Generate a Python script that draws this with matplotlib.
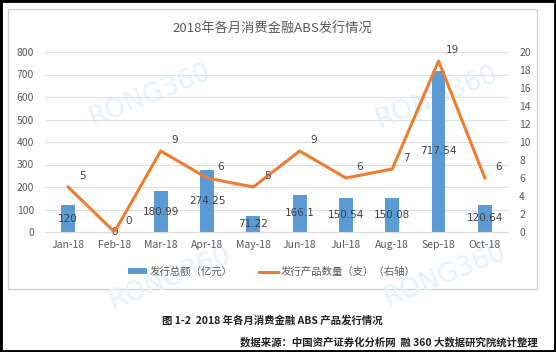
import matplotlib
matplotlib.use("Agg")
import matplotlib.pyplot as plt
from matplotlib.patches import Rectangle
from matplotlib.lines import Line2D
from matplotlib.patches import Patch

plt.rcParams['font.family'] = ['Noto Sans CJK SC', 'DejaVu Sans']

months = ["Jan-18", "Feb-18", "Mar-18", "Apr-18", "May-18", "Jun-18",
          "Jul-18", "Aug-18", "Sep-18", "Oct-18"]
amount = [120, 0, 180.99, 274.25, 71.22, 166.1, 150.54, 150.08, 717.54, 120.64]
amount_labels = ["120", "0", "180.99", "274.25", "71.22", "166.1", "150.54",
                 "150.08", "717.54", "120.64"]
count = [5, 0, 9, 6, 5, 9, 6, 7, 19, 6]
left_ticks = [0, 100, 200, 300, 400, 500, 600, 700, 800]
right_ticks = [0, 2, 4, 6, 8, 10, 12, 14, 16, 18, 20]

title = "2018年各月消费金融ABS发行情况"
legend_bar = "发行总额（亿元）"
legend_line = "发行产品数量（支）（右轴）"
caption = "图 1-2  2018 年各月消费金融 ABS 产品发行情况"
source = "数据来源：中国资产证券化分析网  融 360 大数据研究院统计整理"

W, H = 556, 352
fig = plt.figure(figsize=(W / 100, H / 100), dpi=100)
fig.patch.set_facecolor("white")

def fx(x):
    return x / W

def fy(y):
    return 1 - y / H

# outer black frame
fig.patches.append(Rectangle((0, 0), 1, 1, transform=fig.transFigure,
                             fill=False, edgecolor="black", linewidth=3.5, zorder=-2))
# chart panel border
fig.patches.append(Rectangle((fx(8), fy(289)), fx(537) - fx(8), fy(9) - fy(289),
                             transform=fig.transFigure, fill=False,
                             edgecolor="#d0d0d0", linewidth=0.9, zorder=-2))

# watermarks
wm_color = "#e4f2fb"
for (x, y) in [(150, 95), (437, 97), (445, 275), (170, 278)]:
    fig.text(fx(x), fy(y), "RONG360", rotation=22, fontsize=19, color=wm_color,
             ha="center", va="center", family="DejaVu Sans", zorder=-1)

ax = fig.add_axes([fx(45), fy(232), fx(508) - fx(45), fy(52) - fy(232)])
ax.patch.set_alpha(0)
ax2 = ax.twinx()

x = list(range(len(months)))
bar_color = "#5b9bd5"
line_color = "#ed7d31"
txt_color = "#595959"

bars = ax.bar(x, amount, width=0.3, color=bar_color, zorder=2)
ax.set_ylim(0, 800)
ax.set_yticks(left_ticks)
ax.set_xlim(-0.5, len(months) - 0.5)
ax.set_xticks(x)
ax.set_xticklabels(months)
ax.grid(axis="y", color="#e0e0e0", linewidth=0.8, zorder=0)
ax.set_axisbelow(True)
for s in ["top", "right", "left"]:
    ax.spines[s].set_visible(False)
ax.spines["bottom"].set_color("#d9d9d9")
ax.tick_params(axis="both", length=0, labelsize=7.5, colors=txt_color, pad=6)
ax.tick_params(axis="y", pad=8)

for xi, v, lab in zip(x, amount, amount_labels):
    ax.text(xi, v / 2, lab, ha="center", va="center", fontsize=7.5,
            color="#404040", zorder=4, family="DejaVu Sans")

ax2.plot(x, count, color=line_color, linewidth=2.2, zorder=3)
ax2.set_ylim(0, 20)
ax2.set_yticks(right_ticks)
for s in ["top", "right", "left", "bottom"]:
    ax2.spines[s].set_visible(False)
ax2.tick_params(axis="y", length=0, labelsize=7.5, colors=txt_color, pad=8)
for xi, c in zip(x, count):
    ax2.annotate(str(c), (xi, c), xytext=(10, 8), textcoords="offset points",
                 ha="center", va="center", fontsize=7.5, color="#404040",
                 family="DejaVu Sans")

fig.text(fx(272), fy(29), title, ha="center", va="center", fontsize=9.5,
         color=txt_color)

handles = [Patch(facecolor=bar_color, edgecolor="none"),
           Line2D([0], [0], color=line_color, linewidth=2.2)]
fig.legend(handles, [legend_bar, legend_line], loc="center",
           bbox_to_anchor=(fx(272), fy(272)), ncol=2, frameon=False,
           fontsize=7.5, labelcolor=txt_color, handlelength=1.8,
           handleheight=0.5, columnspacing=2.5, handletextpad=0.3)

fig.text(fx(272), fy(320), caption, ha="center", va="center", fontsize=7.5,
         fontweight="bold", color="#202020")
fig.text(fx(538), fy(342), source, ha="right", va="center", fontsize=7.5,
         fontweight="bold", color="#202020")

fig.savefig("out.png", dpi=100)
